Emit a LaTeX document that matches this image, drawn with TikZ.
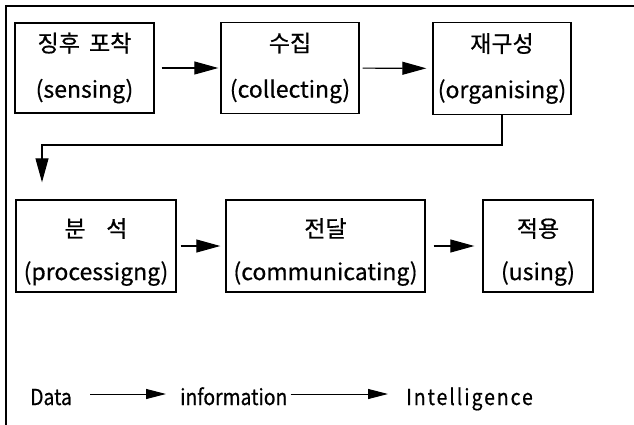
\documentclass[tikz,border=0pt]{standalone}
\usepackage{fontspec}
\setmainfont[FakeBold=0.6]{Noto Sans CJK KR}
\newfontfamily\narrowfont[FakeStretch=0.88,FakeBold=0.6]{Noto Sans CJK KR}
\newfontfamily\spacedfont[FakeStretch=0.88,FakeBold=0.6,LetterSpace=9]{Noto Sans CJK KR}
\newcommand\toppad{\rule{0pt}{31pt}}
\usetikzlibrary{arrows.meta}
\begin{document}
\begin{tikzpicture}[x=1pt,y=-1pt,
  box/.style={draw, line width=1.4pt, inner sep=0pt, align=center,
    font=\fontsize{23}{46}\selectfont},
  lowbox/.style={box, font=\fontsize{23}{43}\selectfont},
  arr/.style={line width=1.1pt, -{Triangle[length=24pt,width=13pt]}},
  sarr/.style={line width=1pt, -{Triangle[length=20pt,width=10pt]}},
  lbl/.style={font=\narrowfont\fontsize{22}{25}\selectfont, inner sep=0pt,
    text height=22pt, text depth=0pt, anchor=west}]
\useasboundingbox (0,0) rectangle (634,425);
% frame
\draw[line width=1.4pt] (6,425) -- (6,6) -- (634,6);
% row 1
\node[box, minimum width=139pt, minimum height=90pt] (b1) at (84.5,68) {징후\hspace{0.4em}포착\\(sensing)};
\node[box, minimum width=138pt, minimum height=91pt] (b2) at (290,68) {수집\\(collecting)};
\node[box, minimum width=138pt, minimum height=92pt] (b3) at (502,68.5) {재구성\\(organising)};
% row 2
\node[lowbox, minimum width=160pt, minimum height=92pt] (b4) at (96,246) {\toppad 분\hspace{0.9em}석\\(processigng)};
\node[lowbox, minimum width=199pt, minimum height=92pt] (b5) at (325.5,246) {\toppad 전달\\(communicating)};
\node[lowbox, minimum width=110pt, minimum height=92pt] (b6) at (538,246) {\toppad 적용\\(using)};
% connectors
\draw[arr, shorten <=7pt, shorten >=2pt] (b1) -- (b2);
\draw[arr, shorten <=3pt, shorten >=6pt] (b2) -- (b3);
\coordinate (turn) at (42,145);
\draw[arr, shorten >=17pt] (b3.south) |- (turn) -- (b4.north -| turn);
\draw[arr, shorten <=4pt, shorten >=5pt] (b4) -- (b5);
\draw[arr, shorten <=8pt, shorten >=8pt] (b5) -- (b6);
% bottom row
\node[lbl] (data) at (30,394) {Data};
\node[lbl] (info) at (180,394) {information};
\node[lbl, font=\spacedfont\fontsize{22}{25}\selectfont] (intel) at (406,394) {Intelligence};
\draw[sarr, shorten <=18pt, shorten >=14pt] (data) -- (info);
\draw[sarr, shorten <=3pt, shorten >=18pt] (info) -- (intel);
\end{tikzpicture}
\end{document}
